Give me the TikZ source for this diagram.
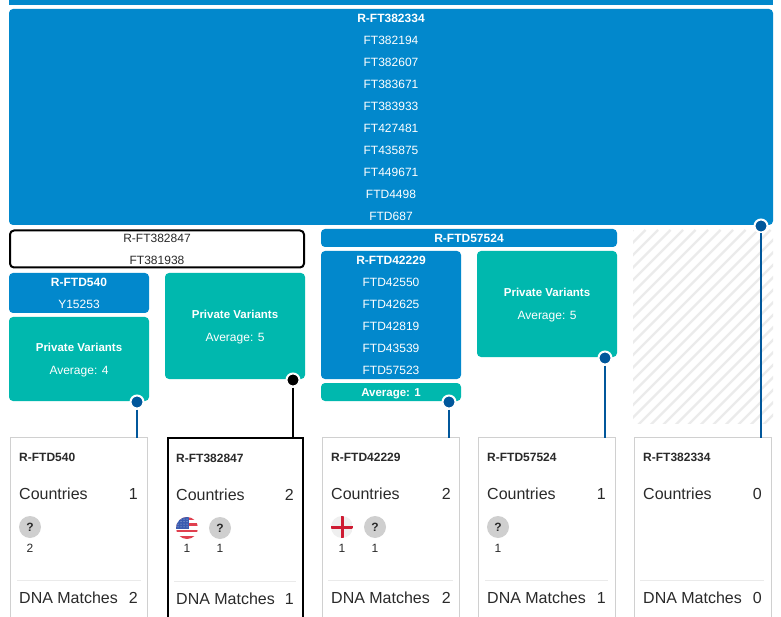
\documentclass[tikz,border=0pt]{standalone}
\usepackage{fontspec}
\setmainfont{Liberation Sans}
\definecolor{varblue}{HTML}{0288CC}
\definecolor{privteal}{HTML}{00B8AE}
\definecolor{dotblue}{HTML}{01579B}
\definecolor{cardgray}{HTML}{D0D0D0}
\definecolor{txtdark}{HTML}{2A2A2A}
\definecolor{hatchgray}{HTML}{EBEBEB}
\definecolor{qgray}{HTML}{CFCFCF}
\definecolor{divgray}{HTML}{EAEAEA}
\definecolor{flagred}{HTML}{E0404F}
\definecolor{flagblue}{HTML}{3A5BB0}
\definecolor{crossred}{HTML}{CE1B32}
\definecolor{crossbg}{HTML}{EFEFEF}
\newcommand{\privtext}[1]{{\fontsize{11.5}{22}\bfseries\selectfont #1}}
\newcommand{\privhead}{\rule{0pt}{11.3pt}\privtext{Private Variants}\\[1pt]}
\tikzset{
  x=1pt,y=-1pt,
  block/.style={rectangle,rounded corners=4pt,inner sep=0pt,align=center,text=white,font=\fontsize{12}{22}\selectfont,outer sep=0pt},
  bluebox/.style={block,fill=varblue},
  tealbox/.style={block,fill=privteal},
  selbox/.style={block,fill=white,draw=black,line width=2pt,text=txtdark},
  singleline/.style={text height=8.6pt,text depth=0pt},
  card/.style={rectangle,draw=cardgray,line width=1pt,fill=white,minimum height=300pt,inner sep=0pt,outer sep=0pt},
  selcard/.style={card,draw=black,line width=2pt},
  dotnode/.style={circle,minimum size=13pt,inner sep=0pt,fill=dotblue,draw=white,line width=2pt,outer sep=0pt},
  link/.style={line width=2pt,dotblue},
  title/.style={anchor=mid west,inner sep=0pt,font=\fontsize{12}{14}\bfseries\selectfont,text=txtdark},
  label/.style={anchor=mid west,inner sep=0pt,font=\fontsize{16}{18}\selectfont,text=txtdark},
  val/.style={anchor=mid east,inner sep=0pt,font=\fontsize{16}{18}\selectfont,text=txtdark},
  qmark/.style={circle,minimum size=22pt,inner sep=0pt,fill=qgray,text=txtdark,font=\fontsize{12}{14}\bfseries\selectfont},
  cnt/.style={inner sep=0pt,font=\fontsize{12}{14}\selectfont,text=txtdark},
  divider/.style={line width=1pt,divgray},
}
\begin{document}
\begin{tikzpicture}
\useasboundingbox (0,0) rectangle (781,617);
\clip (0,0) rectangle (781,617);
\fill[white] (0,0) rectangle (781,617);
% hatched empty slot
\begin{scope}
\clip (633,229) rectangle (773,423);
\foreach \k in {0,...,30}{
  \draw[hatchgray,line width=2.3pt] ({633+12.5*\k-200},{430}) -- ({633+12.5*\k},{230});
}
\end{scope}
% tree blocks
\fill[varblue] (9,-6) rectangle (773,5);
\node[bluebox,minimum width=764pt,minimum height=216pt] (root) at (391,117) {\textbf{R-FT382334}\\FT382194\\FT382607\\FT383671\\FT383933\\FT427481\\FT435875\\FT449671\\FTD4498\\FTD687};
\node[selbox,minimum width=294pt,minimum height=37pt] (b847) at (157,249) {R-FT382847\\FT381938};
\node[bluebox,minimum width=140pt,minimum height=40pt] (b540) at (79,293) {\textbf{R-FTD540}\\Y15253};
\node[tealbox,minimum width=140pt,minimum height=84pt] (p540) at (79,359) {\privhead Average: 4};
\node[tealbox,minimum width=140pt,minimum height=106pt] (p847) at (235,326) {\privhead Average: 5};
\node[bluebox,singleline,minimum width=296pt,minimum height=18pt] (b524) at (469,238) {\textbf{R-FTD57524}};
\node[bluebox,minimum width=140pt,minimum height=128pt] (b229) at (391,315) {\textbf{R-FTD42229}\\FTD42550\\FTD42625\\FTD42819\\FTD43539\\FTD57523};
\node[tealbox,singleline,minimum width=140pt,minimum height=18pt] (p229) at (391,392) {\privtext{Average: 1}};
\node[tealbox,minimum width=140pt,minimum height=106pt] (p524) at (547,304) {\privhead Average: 5};
% cards
\node[card,minimum width=137pt,anchor=north] (c540) at (79,437.5) {};
\node[selcard,minimum width=135pt,anchor=north] (c847) at (235,438) {};
\node[card,minimum width=137pt,anchor=north] (c229) at (391,437.5) {};
\node[card,minimum width=137pt,anchor=north] (c524) at (547,437.5) {};
\node[card,minimum width=137pt,anchor=north] (c334) at (703,437.5) {};
% connector dots
\node[dotnode] (d540) at (137,402) {};
\node[dotnode,fill=black] (d847) at (293,380) {};
\node[dotnode] (d229) at (449,402) {};
\node[dotnode] (d524) at (605,358) {};
\node[dotnode] (d334) at (761,226) {};
% connectors
\draw[link] (d540.south) ++(0,1) -- (d540.south |- c540.north);
\draw[link,black] (d847.south) ++(0,1) -- (d847.south |- c847.north);
\draw[link] (d229.south) ++(0,1) -- (d229.south |- c229.north);
\draw[link] (d524.south) ++(0,1) -- (d524.south |- c524.north);
\draw[link] (d334.south) ++(0,1) -- (d334.south |- c334.north);
% card 1
\node[title] (t1) at (19,459) {R-FTD540};
\node[label] (l1) at (19,496.5) {Countries};
\node[val] (v1) at (138,496.5) {1};
\node[qmark] (q1) at (30,527) {?};
\node[cnt] (n1) at (30,548) {2};
\draw[divider] (17,580) -- (141,580);
\node[label] (m1) at (19,600.5) {DNA Matches};
\node[val] (w1) at (138,600.5) {2};
% card 2
\node[title] (t2) at (176,460) {R-FT382847};
\node[label] (l2) at (176,497.5) {Countries};
\node[val] (v2) at (294,497.5) {2};
\begin{scope}
\clip (187,528) circle (11);
\fill[white] (176,517) rectangle (198,539);
\foreach \s in {0,2,4,6}{\fill[flagred] (176,{517+\s*3.2}) rectangle (198,{517+\s*3.2+2.6});}
\fill[flagblue] (176,517) rectangle (189,529);
\foreach \i in {0,...,3}{\foreach \j in {0,...,3}{\fill[white!70!flagblue] ({178+\i*3},{519+\j*2.6}) circle (0.5);}}
\end{scope}
\node[cnt] (n2a) at (187,548.5) {1};
\node[qmark] (q2) at (220,528) {?};
\node[cnt] (n2b) at (220,548.5) {1};
\draw[divider] (174,581.5) -- (296,581.5);
\node[label] (m2) at (176,601.5) {DNA Matches};
\node[val] (w2) at (294,601.5) {1};
% card 3
\node[title] (t3) at (331,459) {R-FTD42229};
\node[label] (l3) at (331,496.5) {Countries};
\node[val] (v3) at (451,496.5) {2};
\begin{scope}
\clip (342,527) circle (11);
\fill[crossbg] (331,516) rectangle (353,538);
\fill[crossred] (340.5,516) rectangle (343.5,538);
\fill[crossred] (331,525.5) rectangle (353,528.5);
\end{scope}
\node[cnt] (n3a) at (342,548) {1};
\node[qmark] (q3) at (375,527) {?};
\node[cnt] (n3b) at (375,548) {1};
\draw[divider] (328,580) -- (453,580);
\node[label] (m3) at (331,600.5) {DNA Matches};
\node[val] (w3) at (451,600.5) {2};
% card 4
\node[title] (t4) at (487,459) {R-FTD57524};
\node[label] (l4) at (487,496.5) {Countries};
\node[val] (v4) at (606,496.5) {1};
\node[qmark] (q4) at (498,527) {?};
\node[cnt] (n4) at (498,548) {1};
\draw[divider] (485,580) -- (608,580);
\node[label] (m4) at (487,600.5) {DNA Matches};
\node[val] (w4) at (606,600.5) {1};
% card 5
\node[title] (t5) at (643,459) {R-FT382334};
\node[label] (l5) at (643,496.5) {Countries};
\node[val] (v5) at (762,496.5) {0};
\draw[divider] (640,580) -- (764,580);
\node[label] (m5) at (643,600.5) {DNA Matches};
\node[val] (w5) at (762,600.5) {0};
\end{tikzpicture}
\end{document}
